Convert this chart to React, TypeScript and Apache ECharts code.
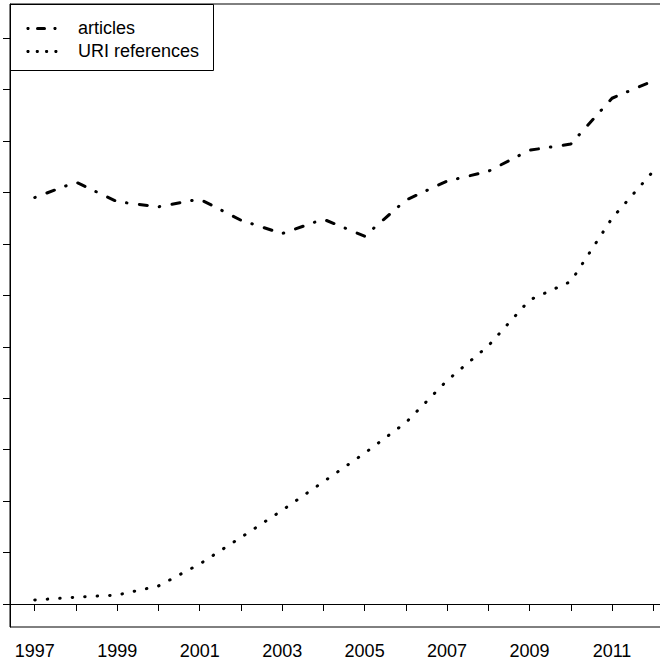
import React, { useEffect, useRef } from "react";
import * as echarts from "echarts";

const years = [1997, 1998, 1999, 2000, 2001, 2002, 2003, 2004, 2005, 2006, 2007, 2008, 2009, 2010, 2011, 2012];
const articles = [7900, 8200, 7820, 7720, 7870, 7460, 7200, 7480, 7150, 7850, 8220, 8410, 8820, 8940, 9830, 10170];
const uriReferences = [78, 132, 175, 350, 777, 1293, 1821, 2375, 2931, 3526, 4344, 5018, 5909, 6268, 7497, 8412];
const xTickValues = years;
const xLabelValues = [1997, 1999, 2001, 2003, 2005, 2007, 2009, 2011];
const yTickValues = [0, 1000, 2000, 3000, 4000, 5000, 6000, 7000, 8000, 9000, 10000, 11000];
const legendNames = ["articles", "URI references"];

const FONT = "'Liberation Sans', Arial, Helvetica, sans-serif";

export default function App() {
  const ref = useRef<HTMLDivElement>(null);
  useEffect(() => {
    if (!ref.current) return;
    const chart = echarts.init(ref.current, null, { renderer: "svg" });
    const option: any = {
      animation: false,
      backgroundColor: "#fff",
      grid: {
        show: true,
        left: 10,
        top: 4,
        width: 668,
        height: 623,
        outerBoundsMode: "none",
        containLabel: false,
        borderColor: "#000",
        borderWidth: 1,
        backgroundColor: "transparent",
      },
      xAxis: {
        type: "value",
        min: 1996.4,
        max: 2012.6,
        axisLine: { show: true, lineStyle: { color: "#000", width: 1 } },
        axisTick: {
          show: true,
          inside: false,
          length: 7,
          customValues: xTickValues,
          lineStyle: { color: "#000", width: 1 },
        },
        axisLabel: {
          show: true,
          customValues: xLabelValues,
          formatter: (v: number) => String(Math.round(v)),
          fontSize: 18,
          fontFamily: FONT,
          color: "#000",
          margin: 15,
        },
        splitLine: { show: false },
      },
      yAxis: {
        type: "value",
        min: -447,
        max: 11662,
        axisLine: { show: true, lineStyle: { color: "#000", width: 1 } },
        axisTick: {
          show: true,
          inside: false,
          length: 7,
          customValues: yTickValues,
          lineStyle: { color: "#000", width: 1 },
        },
        axisLabel: { show: false },
        splitLine: { show: false },
      },
      series: [
        {
          name: legendNames[0],
          type: "line",
          data: years.map((y, i) => [y, articles[i]]),
          symbol: "none",
          silent: true,
          lineStyle: { color: "#000", width: 3, type: [0.5, 12.5, 8, 12], cap: "round", join: "round" },
        },
        {
          name: legendNames[1],
          type: "line",
          data: years.map((y, i) => [y, uriReferences[i]]),
          symbol: "none",
          silent: true,
          lineStyle: { color: "#000", width: 3, type: [0.5, 12], cap: "round", join: "round" },
        },
      ],
      graphic: [
        {
          type: "group",
          z: 100,
          children: [
            {
              type: "rect",
              shape: { x: 10.5, y: 4.5, width: 203, height: 66 },
              style: { fill: "#fff", stroke: "#000", lineWidth: 1 },
            },
            { type: "circle", shape: { cx: 28, cy: 28.5, r: 1.6 }, style: { fill: "#000" } },
            {
              type: "line",
              shape: { x1: 37.5, y1: 28.5, x2: 44.5, y2: 28.5 },
              style: { stroke: "#000", lineWidth: 3, lineCap: "round" },
            },
            { type: "circle", shape: { cx: 55, cy: 28.5, r: 1.6 }, style: { fill: "#000" } },
            { type: "circle", shape: { cx: 28, cy: 51.5, r: 1.6 }, style: { fill: "#000" } },
            { type: "circle", shape: { cx: 37.3, cy: 51.5, r: 1.6 }, style: { fill: "#000" } },
            { type: "circle", shape: { cx: 46.6, cy: 51.5, r: 1.6 }, style: { fill: "#000" } },
            { type: "circle", shape: { cx: 55.9, cy: 51.5, r: 1.6 }, style: { fill: "#000" } },
            {
              type: "text",
              x: 78,
              y: 28,
              style: { text: legendNames[0], fontSize: 18, fontFamily: FONT, fill: "#000", verticalAlign: "middle", align: "left" },
            },
            {
              type: "text",
              x: 78,
              y: 51,
              style: { text: legendNames[1], fontSize: 18, fontFamily: FONT, fill: "#000", verticalAlign: "middle", align: "left" },
            },
          ],
        },
      ],
    };
    chart.setOption(option);
    return () => chart.dispose();
  }, []);
  return (
    <div
      ref={ref}
      style={{ position: "fixed", left: 0, top: 0, width: 660, height: 660, overflow: "hidden" }}
    />
  );
}
